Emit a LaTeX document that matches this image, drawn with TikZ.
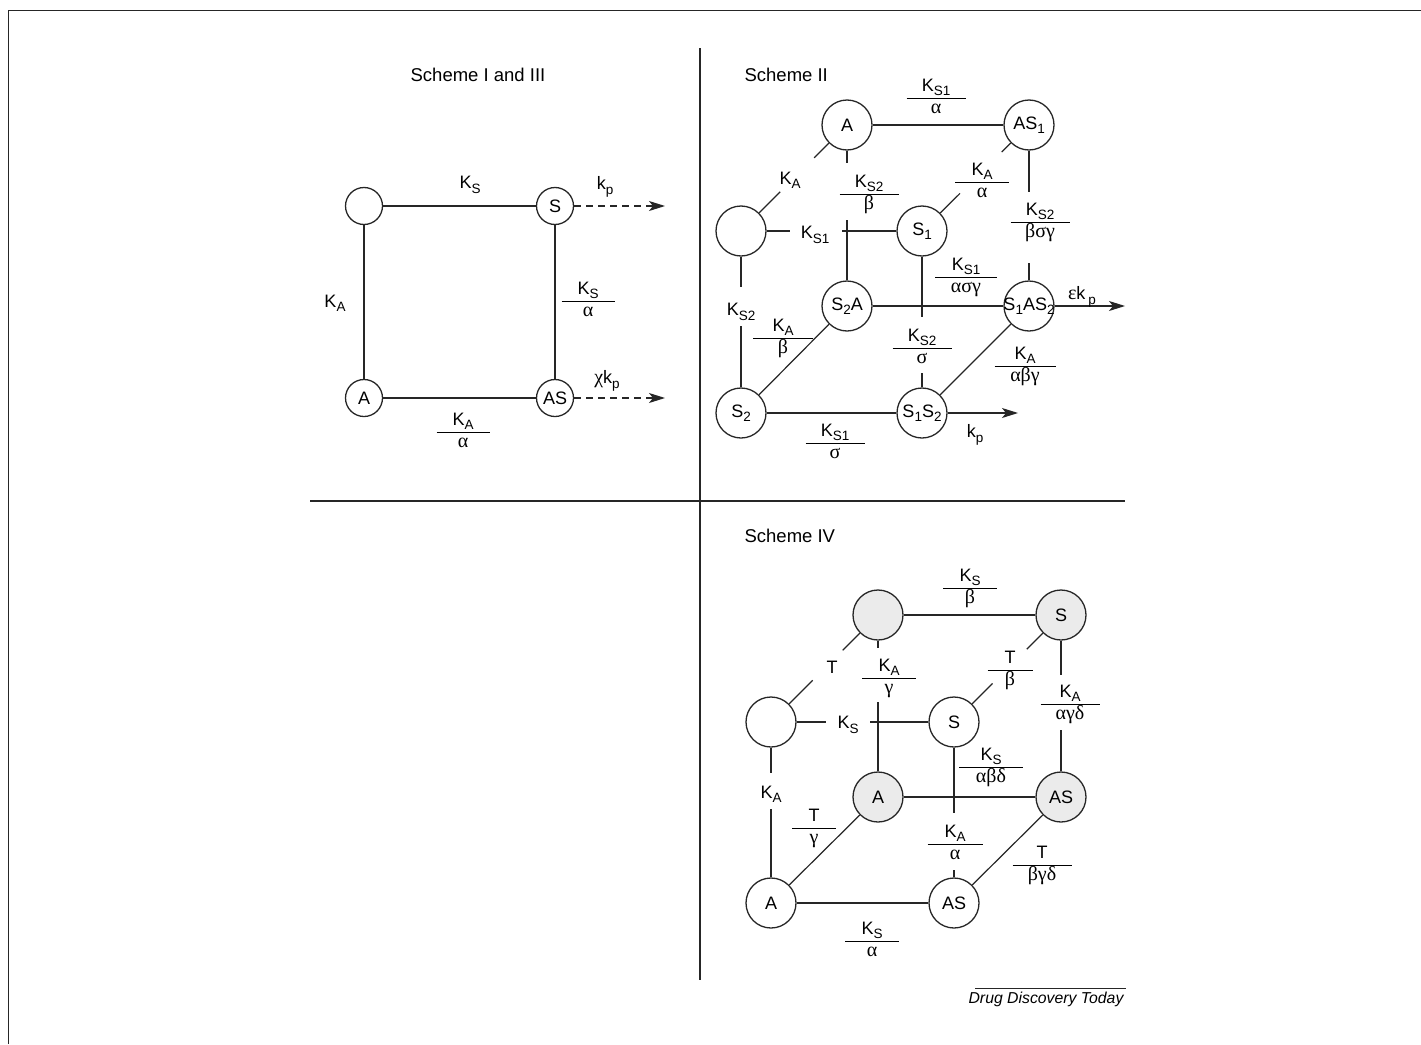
\documentclass[tikz,border=0pt]{standalone}
\usepackage{amsmath}
\usepackage{fontspec}
\setmainfont{Liberation Sans}
\newfontfamily\grk{Liberation Serif}
\usetikzlibrary{arrows.meta, calc}
\setlength{\arrayrulewidth}{1pt}
\newcommand{\frc}[3][56pt]{\begin{tabular}{@{}c@{}}\makebox[#1]{#2}\\\hline #3\end{tabular}}
\newcommand{\gr}[1]{{\grk\fontsize{20}{20}\selectfont #1}}
\newcommand{\sub}[1]{\raisebox{-4.3pt}{\fontsize{13.5}{13.5}\selectfont #1}}
% broken edge: stub from each end, gap in the middle for a label
\newcommand{\brk}[4]{\draw (#1) -- ($(#1)!#3!(#2)$); \draw (#2) -- ($(#2)!#4!(#1)$);}
\tikzset{sp/.style={circle, draw, line width=1.3pt, minimum size=50pt, inner sep=0pt},
    spsmall/.style={sp, minimum size=37pt},
    spgrey/.style={sp, fill=black!8},
    lab/.style={inner sep=0pt},
    title/.style={inner sep=0pt, font=\fontsize{18.5}{22}\selectfont},
    flow/.style={-{Stealth[length=16pt,width=10pt,inset=4pt]}}}

\begin{document}
\begin{tikzpicture}[x=1pt, y=-1pt, line width=1.2pt, draw=black!85, font=\fontsize{18}{21.6}\selectfont]
                \useasboundingbox (0,0) rectangle (1421,1044);
                \draw[line width=1.5pt] (8.5,1044) -- (8.5,10.5) -- (1421,10.5);
                \draw (310,501) -- (1125,501);
                \draw (700,48) -- (700,980);

                % Scheme I and III
                \node[title] (t1) at (478,75) {Scheme I and III};
                \node[spsmall] (e1) at (364,206) {};
                \node[spsmall] (s1) at (555,206) {S};
                \node[spsmall] (a1) at (364,398) {A};
                \node[spsmall, inner sep=-2pt] (as1) at (555,398) {AS};
                \draw (e1) -- (s1);
                \draw (e1) -- (a1);
                \draw (s1) -- (as1);
                \draw (a1) -- (as1);
                \coordinate (kp1) at (665,206);
                \coordinate (kp2) at (665,398);
                \draw[flow, dash pattern=on 7pt off 5pt] (s1) -- (kp1);
                \draw[flow, dash pattern=on 7pt off 5pt] (as1) -- (kp2);
                \node[lab] (ks1) at (470,185) {K\sub{S}};
                \node[lab] (ka1) at (335,303) {K\sub{A}};
                \node[lab] (ksa1) at (588,301) {\frc[53pt]{K\sub{S}}{\gr{α}}};
                \node[lab] (kaa1) at (463,432) {\frc[53pt]{K\sub{A}}{\gr{α}}};
                \node[lab] (rate1) at (605,187) {k\sub{p}};
                \node[lab] (rate2) at (607,381) {\gr{χ}k\sub{p}};

                % Scheme II
                \node[title, anchor=west] (t2) at (744,75) {Scheme II};
                \node[sp] (twoA) at (847,125) {A};
                \node[sp] (twoAS1) at (1029,125) {AS\sub{1}};
                \node[sp] (twoE) at (741,231) {};
                \node[sp] (twoS1) at (922,231) {S\sub{1}};
                \node[sp] (twoS2A) at (847,306) {S\sub{2}A};
                \node[sp, inner sep=-6pt] (twoS1AS2) at (1029,306) {S\sub{1}AS\sub{2}};
                \node[sp] (twoS2) at (741,413) {S\sub{2}};
                \node[sp, inner sep=-3pt] (twoS1S2) at (922,413) {S\sub{1}S\sub{2}};
                \draw (twoA) -- (twoAS1);
                \brk{twoA}{twoE}{0.31}{0.37}
                \brk{twoA}{twoS2A}{0.21}{0.475}
                \brk{twoE}{twoS1}{0.27}{0.44}
                \brk{twoS1}{twoAS1}{0.355}{0.255}
                \brk{twoAS1}{twoS1AS2}{0.37}{0.24}
                \brk{twoS1}{twoS1S2}{0.47}{0.22}
                \brk{twoE}{twoS2}{0.31}{0.48}
                \draw (twoS2A) -- (twoS1AS2);
                \draw (twoS2) -- (twoS2A);
                \draw (twoS2) -- (twoS1S2);
                \draw (twoS1S2) -- (twoS1AS2);
                \coordinate (out1) at (1125,306);
                \coordinate (out2) at (1018,413);
                \draw[flow] (twoS1AS2) -- (out1);
                \draw[flow] (twoS1S2) -- (out2);
                \node[lab] (l2a) at (936,98) {\frc[59pt]{K\sub{S1}}{\gr{α}}};
                \node[lab] (l2b) at (790,180) {K\sub{A}};
                \node[lab] (l2c) at (869,194) {\frc[59pt]{K\sub{S2}}{\gr{β}}};
                \node[lab] (l2d) at (982,182) {\frc[54pt]{K\sub{A}}{\gr{α}}};
                \node[lab] (l2e) at (1040,222) {\frc[59pt]{K\sub{S2}}{\gr{βσγ}}};
                \node[lab] (l2f) at (815,235) {K\sub{S1}};
                \node[lab] (l2g) at (966,277) {\frc[62pt]{K\sub{S1}}{\gr{ασγ}}};
                \node[lab] (l2h) at (1082,297) {\gr{ε}k\,\sub{p}};
                \node[lab] (l2i) at (741,312) {K\sub{S2}};
                \node[lab] (l2j) at (783,338) {\frc[60pt]{K\sub{A}}{\gr{β}}};
                \node[lab] (l2k) at (922,348) {\frc[59pt]{K\sub{S2}}{\gr{σ}}};
                \node[lab] (l2l) at (1025,366) {\frc[61pt]{K\sub{A}}{\gr{αβγ}}};
                \node[lab] (l2m) at (835,443) {\frc[59pt]{K\sub{S1}}{\gr{σ}}};
                \node[lab] (l2n) at (975,435) {k\sub{p}};

                % Scheme IV
                \node[title, anchor=west] (t4) at (744,536) {Scheme IV};
                \node[spgrey] (fourEb) at (878,615) {};
                \node[spgrey] (fourSb) at (1061,615) {S};
                \node[sp] (fourE) at (771,722) {};
                \node[sp] (fourS) at (954,722) {S};
                \node[spgrey] (fourAb) at (878,797) {A};
                \node[spgrey] (fourASb) at (1061,797) {AS};
                \node[sp] (fourA) at (771,903) {A};
                \node[sp] (fourAS) at (954,903) {AS};
                \draw (fourEb) -- (fourSb);
                \brk{fourEb}{fourE}{0.33}{0.39}
                \brk{fourEb}{fourAb}{0.18}{0.52}
                \brk{fourE}{fourS}{0.30}{0.46}
                \brk{fourS}{fourSb}{0.36}{0.32}
                \brk{fourSb}{fourASb}{0.33}{0.37}
                \brk{fourE}{fourA}{0.28}{0.52}
                \brk{fourS}{fourAS}{0.5}{0.18}
                \draw (fourAb) -- (fourASb);
                \draw (fourA) -- (fourAb);
                \draw (fourA) -- (fourAS);
                \draw (fourAS) -- (fourASb);
                \node[lab] (l4a) at (970,588) {\frc[54pt]{K\sub{S}}{\gr{β}}};
                \node[lab] (l4b) at (832,667) {T};
                \node[lab] (l4c) at (889,678) {\frc[54pt]{K\sub{A}}{\gr{γ}}};
                \node[lab] (l4d) at (1010,670) {\frc[45pt]{T}{\gr{β}}};
                \node[lab] (l4e) at (848,725) {K\sub{S}};
                \node[lab] (l4f) at (1070,704) {\frc[59pt]{K\sub{A}}{\gr{αγδ}}};
                \node[lab] (l4g) at (991,767) {\frc[64pt]{K\sub{S}}{\gr{αβδ}}};
                \node[lab] (l4h) at (771,794) {K\sub{A}};
                \node[lab] (l4i) at (814,828) {\frc[44pt]{T}{\gr{γ}}};
                \node[lab] (l4j) at (955,844) {\frc[55pt]{K\sub{A}}{\gr{α}}};
                \node[lab] (l4k) at (1042,865) {\frc[59pt]{T}{\gr{βγδ}}};
                \node[lab] (l4l) at (872,941) {\frc[54pt]{K\sub{S}}{\gr{α}}};

                \node[lab, font=\fontsize{15.8}{18}\selectfont\itshape] (src) at (1046,999) {Drug Discovery Today};
                \draw[line width=0.9pt] (975,988) -- (1126,988);
\end{tikzpicture}
\end{document}
